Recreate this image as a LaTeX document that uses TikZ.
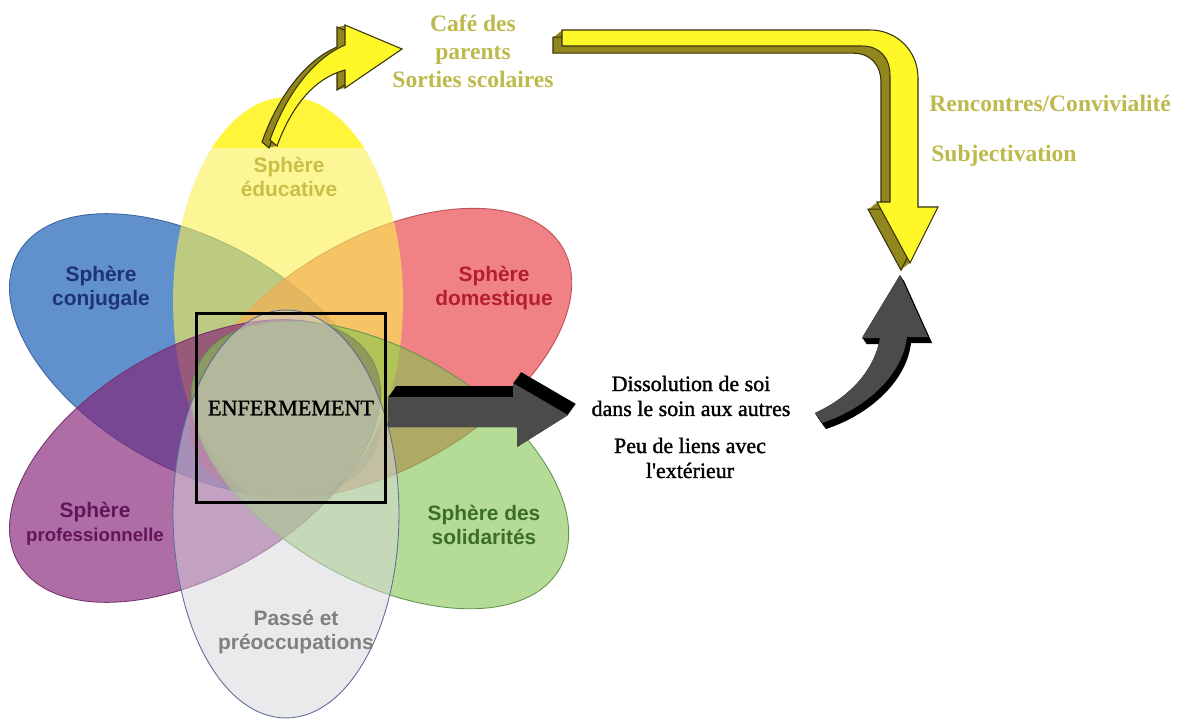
\documentclass[tikz,border=0pt]{standalone}
\usepackage{fontspec}
\setmainfont{Liberation Serif}
\setsansfont{Liberation Sans}
\newfontfamily\heavyserif[FakeBold=1.3]{Liberation Serif}
\definecolor{cBlue}{RGB}{31,99,184}
\definecolor{cRed}{RGB}{234,77,84}
\definecolor{cYel}{RGB}{250,240,80}
\definecolor{cYelTop}{RGB}{255,246,60}
\definecolor{cPurple}{RGB}{132,32,117}
\definecolor{cGreen}{RGB}{130,197,80}
\definecolor{cGrey}{RGB}{215,215,219}
\definecolor{bBlue}{RGB}{60,100,160}
\definecolor{bRed}{RGB}{190,80,90}
\definecolor{bPurple}{RGB}{120,50,110}
\definecolor{bGreen}{RGB}{100,150,80}
\definecolor{bGrey}{RGB}{90,110,150}
\definecolor{tBlue}{RGB}{30,50,120}
\definecolor{tRed}{RGB}{180,30,45}
\definecolor{tPurple}{RGB}{100,20,90}
\definecolor{tGreen}{RGB}{60,110,40}
\definecolor{tGrey}{RGB}{128,128,128}
\definecolor{tYel}{RGB}{200,192,70}
\definecolor{tOlive}{RGB}{190,185,75}
\definecolor{arrYel}{RGB}{255,248,40}
\definecolor{arrOlive}{RGB}{145,135,30}
\definecolor{arrEdge}{RGB}{55,50,10}
\definecolor{arrGrey}{RGB}{75,75,75}
\begin{document}
\begin{tikzpicture}[x=0.02cm,y=-0.02cm,
  lab/.style={font=\sffamily\bfseries\fontsize{11.9}{13.6}\selectfont, align=center, inner sep=0pt},
  olivetxt/.style={font=\bfseries\fontsize{13.4}{15.9}\selectfont, text=tOlive, align=center, inner sep=0pt},
  blacktxt/.style={font=\heavyserif\fontsize{12.5}{14.2}\selectfont, align=center, inner sep=0pt},
  petal/.style={line width=0.5pt}]
\useasboundingbox (0,0) rectangle (1181,720);
\fill[white] (0,0) rectangle (1181,720);

% petals
\fill[cBlue, fill opacity=0.7, rotate around={60:(195,355)}] (195,355) ellipse [x radius=2.26cm, y radius=4.08cm];
\draw[bBlue, petal, rotate around={60:(195,355)}] (195,355) ellipse [x radius=2.26cm, y radius=4.08cm];
\fill[cRed, fill opacity=0.7, rotate around={-60:(381,353)}] (381,353) ellipse [x radius=2.3cm, y radius=4.2cm];
\draw[bRed, petal, rotate around={-60:(381,353)}] (381,353) ellipse [x radius=2.3cm, y radius=4.2cm];
\fill[cYel, fill opacity=0.6] (288,301) ellipse [x radius=2.3cm, y radius=4.08cm];
\begin{scope}
  \clip (288,301) ellipse [x radius=2.3cm, y radius=4.08cm];
  \fill[cYelTop] (150,80) rectangle (420,148);
\end{scope}
\fill[cPurple, fill opacity=0.65, rotate around={-60:(195,461)}] (195,461) ellipse [x radius=2.26cm, y radius=4.08cm];
\draw[bPurple, petal, rotate around={-60:(195,461)}] (195,461) ellipse [x radius=2.26cm, y radius=4.08cm];
\fill[cGreen, fill opacity=0.6, rotate around={60:(380,465)}] (380,465) ellipse [x radius=2.3cm, y radius=4.15cm];
\draw[bGreen, petal, rotate around={60:(380,465)}] (380,465) ellipse [x radius=2.3cm, y radius=4.15cm];
\fill[cGrey, fill opacity=0.5] (286,514) ellipse [x radius=2.26cm, y radius=4.08cm];
\draw[bGrey, petal] (286,514) ellipse [x radius=2.26cm, y radius=4.08cm];

% labels
\node[lab, text=tYel] (edu) at (289,177) {Sphère\\éducative};
\node[lab, text=tBlue] (conj) at (101,288) {Sphère\\conjugale};
\node[lab, text=tRed] (dom) at (494,288) {Sphère\\domestique};
\node[lab, text=tPurple] (pro) at (95,524) {Sphère\\{\fontsize{10.6}{13.6}\selectfont professionnelle}};
\node[lab, text=tGreen] (sol) at (484,525) {Sphère des\\solidarités};
\node[lab, text=tGrey] (passe) at (296,632) {Passé et\\préoccupations};

% central box
\node[draw=black, line width=2.2pt, minimum width=3.78cm, minimum height=3.78cm, font=\heavyserif\fontsize{12.6}{14}\selectfont] (enf) at (291,408) {ENFERMEMENT};

% straight black arrow
\def\pathA{(388,397) -- (513,397) -- (513,383) -- (568,415) -- (517,447) -- (517,427) -- (388,427) -- cycle}
\foreach \s in {0,1,...,11} { \fill[black] [shift={(0.72*\s,-\s)}] \pathA; }
\fill[arrGrey] \pathA;

% curved black arrow
\def\pathB{(815,413) .. controls (848,398) and (874,372) .. (880,338) -- (862,338) -- (900,275) -- (928,337) -- (907,337) .. controls (902,378) and (862,410) .. (822,423) -- cycle}
\foreach \s in {0,1,...,6} { \fill[black] [shift={(0.67*\s,\s)}] \pathB; }
\fill[arrGrey] \pathB;

% small yellow arrow
\def\pathC{(270,140) .. controls (284,100) and (310,60) .. (345,45) -- (345,25) -- (402,49) -- (345,88) -- (345,70) .. controls (315,78) and (292,105) .. (277,146) -- cycle}
\foreach \s in {0,1,...,8} { \fill[arrOlive] [shift={(-\s,0.25*\s)}] \pathC; }
\draw[arrEdge, line width=0.6pt] [shift={(-8,2)}] \pathC;
\filldraw[fill=arrYel, draw=arrEdge, line width=0.6pt] \pathC;

% big yellow arrow
\def\pathD{(562,30) -- (870,30) .. controls (897,30) and (918,51) .. (918,78) -- (918,207) -- (938,207) -- (910,263) -- (877,202) -- (890,202) -- (890,76) .. controls (890,58) and (880,46) .. (862,46) -- (562,46) -- cycle}
\foreach \s in {0,1,...,9} { \fill[arrOlive] [shift={(-\s,0.8*\s)}] \pathD; }
\draw[arrEdge, line width=0.6pt] [shift={(-9,7.2)}] \pathD;
\filldraw[fill=arrYel, draw=arrEdge, line width=0.6pt] \pathD;

% texts
\node[olivetxt] (cafe) at (473,51) {Café des\\parents\\Sorties scolaires};
\node[olivetxt, anchor=west] (renc) at (929,103) {Rencontres/Convivialité};
\node[olivetxt, anchor=west] (subj) at (931,156) {Subjectivation};
\node[blacktxt] (diss) at (691,396) {Dissolution de soi\\dans le soin aux autres};
\node[blacktxt] (peu) at (690,458) {Peu de liens avec\\l\textquotesingle extérieur};
\end{tikzpicture}
\end{document}
